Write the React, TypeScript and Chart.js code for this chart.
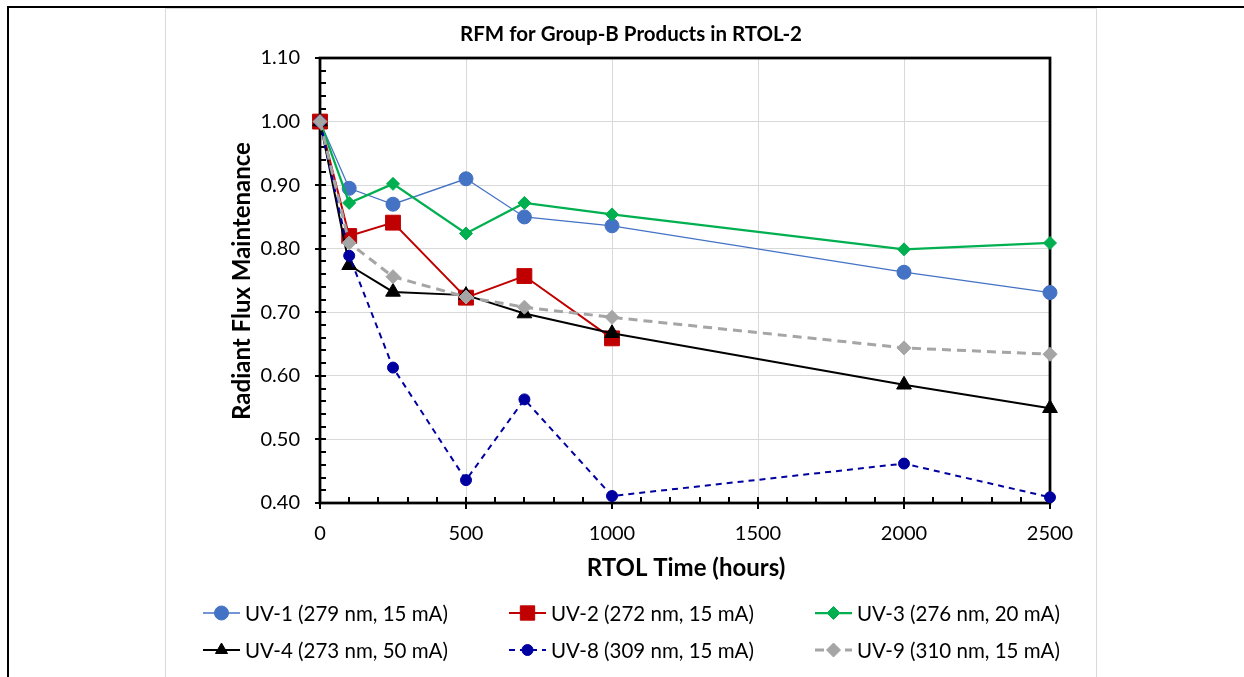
import React, { useEffect, useRef } from "react";
import { Chart, registerables } from "chart.js";

Chart.register(...registerables);

// RTOL sampling times (hours)
const hours = [0, 100, 250, 500, 700, 1000, 2000, 2500];

// Radiant flux maintenance per device
const uv1 = [1.0, 0.895, 0.87, 0.91, 0.85, 0.836, 0.763, 0.731];
const uv2 = [1.0, 0.82, 0.841, 0.723, 0.757, 0.659];
const uv3 = [1.0, 0.872, 0.902, 0.824, 0.872, 0.854, 0.799, 0.809];
const uv4 = [1.0, 0.774, 0.732, 0.727, 0.698, 0.667, 0.586, 0.549];
const uv8 = [1.0, 0.789, 0.613, 0.436, 0.563, 0.411, 0.462, 0.409];
const uv9 = [1.0, 0.809, 0.756, 0.724, 0.708, 0.692, 0.644, 0.634];

const seriesLabels = [
  "UV-1 (279 nm, 15 mA)",
  "UV-2 (272 nm, 15 mA)",
  "UV-3 (276 nm, 20 mA)",
  "UV-4 (273 nm, 50 mA)",
  "UV-8 (309 nm, 15 mA)",
  "UV-9 (310 nm, 15 mA)",
];

const chartTitle = "RFM for Group-B Products in RTOL-2";
const xTitle = "RTOL Time (hours)";
const yTitle = "Radiant Flux Maintenance";

const FONT = "Lato, 'Open Sans', sans-serif";

type Style = {
  color: string;
  width: number;
  dash: number[];
  shape: "circle" | "rect" | "rectRot" | "triangle";
  radius: number;
};

const styles: Style[] = [
  { color: "#4472C4", width: 1.25, dash: [], shape: "circle", radius: 7 },
  { color: "#C00000", width: 2, dash: [], shape: "rect", radius: 10.5 },
  { color: "#00B050", width: 2.25, dash: [], shape: "rectRot", radius: 6.5 },
  { color: "#000000", width: 2, dash: [], shape: "triangle", radius: 8.5 },
  { color: "#0000A0", width: 2, dash: [6, 5], shape: "circle", radius: 5.5 },
  { color: "#A5A5A5", width: 3, dash: [9, 6], shape: "rectRot", radius: 7 },
];

const seriesValues = [uv1, uv2, uv3, uv4, uv8, uv9];

function drawMarker(ctx: CanvasRenderingContext2D, s: Style, x: number, y: number) {
  const r = s.radius;
  ctx.save();
  ctx.setLineDash([]);
  ctx.fillStyle = s.color;
  ctx.strokeStyle = s.color;
  ctx.lineWidth = 1;
  ctx.beginPath();
  if (s.shape === "circle") {
    ctx.arc(x, y, r, 0, Math.PI * 2);
  } else if (s.shape === "rect") {
    const h = r * Math.SQRT1_2;
    ctx.rect(x - h, y - h, 2 * h, 2 * h);
  } else if (s.shape === "rectRot") {
    ctx.moveTo(x - r, y);
    ctx.lineTo(x, y - r);
    ctx.lineTo(x + r, y);
    ctx.lineTo(x, y + r);
    ctx.closePath();
  } else {
    let a = 0;
    ctx.moveTo(x + Math.sin(a) * r, y - Math.cos(a) * r);
    a += (2 * Math.PI) / 3;
    ctx.lineTo(x + Math.sin(a) * r, y - Math.cos(a) * r);
    a += (2 * Math.PI) / 3;
    ctx.lineTo(x + Math.sin(a) * r, y - Math.cos(a) * r);
    ctx.closePath();
  }
  ctx.fill();
  ctx.stroke();
  ctx.restore();
}

// Frame, axis box, tick marks, titles and legend
const decorations = {
  id: "decorations",
  beforeDraw(chart: any) {
    const ctx = chart.ctx as CanvasRenderingContext2D;
    ctx.save();
    ctx.fillStyle = "#ffffff";
    ctx.fillRect(0, 0, chart.width, chart.height);
    // outer page frame
    ctx.strokeStyle = "#000000";
    ctx.lineWidth = 2;
    ctx.beginPath();
    ctx.moveTo(8, chart.height + 2);
    ctx.lineTo(8, 7);
    ctx.lineTo(chart.width + 2, 7);
    ctx.stroke();
    // chart object border
    ctx.strokeStyle = "#D9D9D9";
    ctx.lineWidth = 1;
    ctx.beginPath();
    ctx.moveTo(165.5, chart.height + 2);
    ctx.lineTo(165.5, 8.5);
    ctx.lineTo(1096.5, 8.5);
    ctx.lineTo(1096.5, chart.height + 2);
    ctx.stroke();
    ctx.restore();
  },
  beforeDatasetsDraw(chart: any) {
    const ctx = chart.ctx as CanvasRenderingContext2D;
    const { left, right, top, bottom } = chart.chartArea;
    const xs = chart.scales.x;
    const ys = chart.scales.y;
    ctx.save();
    ctx.strokeStyle = "#000000";
    ctx.lineWidth = 2;
    ctx.beginPath();
    // minor ticks on y (inside)
    for (let i = 1; i < 35; i++) {
      if (i % 5 === 0) continue;
      const yy = Math.round(ys.getPixelForValue(0.4 + i * 0.02));
      ctx.moveTo(left, yy);
      ctx.lineTo(left + 6, yy);
    }
    // major ticks on y (cross)
    for (let i = 0; i <= 7; i++) {
      const yy = Math.round(ys.getPixelForValue(0.4 + i * 0.1));
      ctx.moveTo(left - 5, yy);
      ctx.lineTo(left + 6, yy);
    }
    // minor ticks on x (inside)
    for (let h = 100; h < 2500; h += 100) {
      if (h % 500 === 0) continue;
      const xx = Math.round(xs.getPixelForValue(h));
      ctx.moveTo(xx, bottom);
      ctx.lineTo(xx, bottom - 6);
    }
    // major ticks on x (cross)
    for (let h = 0; h <= 2500; h += 500) {
      const xx = Math.round(xs.getPixelForValue(h));
      ctx.moveTo(xx, bottom - 6);
      ctx.lineTo(xx, bottom + 6);
    }
    ctx.stroke();
    ctx.lineWidth = 2.75;
    ctx.strokeRect(left, top, right - left, bottom - top);
    ctx.restore();
  },
  afterDraw(chart: any) {
    const ctx = chart.ctx as CanvasRenderingContext2D;
    ctx.save();
    ctx.fillStyle = "#000000";
    ctx.textBaseline = "middle";
    ctx.textAlign = "center";
    ctx.font = `bold 20.5px ${FONT}`;
    ctx.fillText(chartTitle, 631, 34);
    ctx.font = `bold 24px ${FONT}`;
    ctx.fillText(xTitle, 686, 568);
    ctx.save();
    ctx.translate(242, 281);
    ctx.rotate(-Math.PI / 2);
    ctx.fillText(yTitle, 0, 0);
    ctx.restore();

    // legend: 2 rows x 3 columns
    const colX = [203, 509, 815];
    const rowY = [613, 650];
    ctx.font = `20.5px ${FONT}`;
    ctx.textAlign = "left";
    seriesLabels.forEach((label, i) => {
      const s = styles[i];
      const x0 = colX[i % 3];
      const y0 = rowY[Math.floor(i / 3)];
      ctx.save();
      ctx.strokeStyle = s.color;
      ctx.lineWidth = s.width < 2 ? 1.5 : s.width;
      ctx.setLineDash(s.dash);
      ctx.beginPath();
      ctx.moveTo(x0, y0);
      ctx.lineTo(x0 + 37, y0);
      ctx.stroke();
      ctx.restore();
      drawMarker(ctx, { ...s, radius: Math.min(s.radius, 7) * (s.shape === "rect" ? 1.45 : 1) }, x0 + 18.5, y0);
      ctx.fillStyle = "#000000";
      ctx.fillText(label, x0 + 42, y0 + 1);
    });
    ctx.restore();
  },
};

export default function App() {
  const canvasRef = useRef<HTMLCanvasElement | null>(null);

  useEffect(() => {
    const canvas = canvasRef.current;
    if (!canvas) return;
    const datasets = seriesValues.map((vals, i) => {
      const s = styles[i];
      return {
        label: seriesLabels[i],
        data: vals.map((v, j) => ({ x: hours[j], y: v })),
        borderColor: s.color,
        backgroundColor: s.color,
        borderWidth: s.width,
        borderDash: s.dash,
        pointStyle: s.shape,
        pointRadius: s.radius,
        pointBorderWidth: 1,
        pointBorderColor: s.color,
        pointBackgroundColor: s.color,
        pointHoverRadius: s.radius,
        tension: 0,
        fill: false,
        clip: false as any,
        order: seriesValues.length - i,
      };
    });
    const chart = new Chart(canvas, {
      type: "line",
      data: { datasets },
      options: {
        responsive: false,
        animation: false,
        devicePixelRatio: 1,
        layout: { padding: { top: 58, right: 194, bottom: 114, left: 0 } },
        plugins: {
          legend: { display: false },
          title: { display: false },
          tooltip: { enabled: false },
        },
        events: [],
        scales: {
          x: {
            type: "linear",
            min: 0,
            max: 2500,
            afterFit: (scale: any) => {
              scale.height = 60;
            },
            border: { display: false },
            grid: { color: "#D9D9D9", lineWidth: 1, drawTicks: false },
            ticks: {
              stepSize: 500,
              color: "#000000",
              padding: 19,
              font: { family: FONT, size: 20 },
              maxRotation: 0,
              callback: (v: any) => String(Math.round(Number(v))),
            },
          },
          y: {
            type: "linear",
            min: 0.4,
            max: 1.1,
            afterFit: (scale: any) => {
              scale.width = 320;
            },
            border: { display: false },
            grid: { color: "#D9D9D9", lineWidth: 1, drawTicks: false },
            ticks: {
              stepSize: 0.1,
              color: "#000000",
              padding: 20,
              font: { family: FONT, size: 20 },
              callback: (v: any) => Number(v).toFixed(2),
            },
          },
        },
      },
      plugins: [decorations],
    });
    return () => chart.destroy();
  }, []);

  return (
    <div style={{ position: "fixed", left: 0, top: 0, width: 1244, height: 677, background: "#fff" }}>
      <canvas ref={canvasRef} width={1244} height={677} style={{ display: "block" }} />
    </div>
  );
}
